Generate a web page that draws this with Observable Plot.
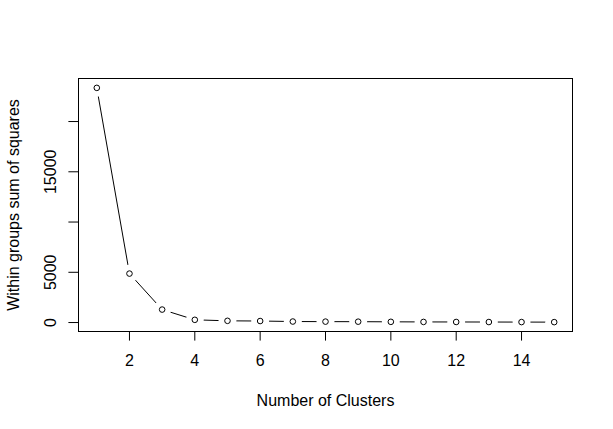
<!DOCTYPE html>
<html><head><meta charset="utf-8">
<script src="https://cdn.jsdelivr.net/npm/d3@7"></script>
<script src="https://cdn.jsdelivr.net/npm/@observablehq/plot@0.6"></script>
<style>
html,body{margin:0;padding:0;background:#fff}
svg{display:block}
</style>
</head><body><div id="chart"></div>
<script>
// Data (elbow plot)
const clusters = [1,2,3,4,5,6,7,8,9,10,11,12,13,14,15];
const wss = [23350, 4870, 1290, 270, 170, 150, 100, 90, 85, 70, 60, 55, 50, 45, 40];
const xTicks = [2,4,6,8,10,12,14];
const yTicks = [0,5000,10000,15000,20000];
const yTickLabels = ["0","5000","","15000",""];
const xTitle = "Number of Clusters";
const yTitle = "Within groups sum of squares";

const data = clusters.map((k,i)=>({k, w: wss[i]}));
const pad = ([a,b]) => { const s = (b-a)*0.04; return [a-s, b+s]; };

const chart = Plot.plot({
  width: 613, height: 429,
  marginLeft: 78, marginRight: 41, marginTop: 78, marginBottom: 98,
  style: {fontFamily: "'Liberation Sans', Arial, sans-serif", fontSize: "16px", color: "#000", background: "#fff"},
  x: {domain: pad(d3.extent(clusters))},
  y: {domain: pad(d3.extent(wss))},
  marks: [
    Plot.line(data, {x: "k", y: "w", stroke: "black", strokeWidth: 1}),
    Plot.dot(data, {x: "k", y: "w", r: 9, fill: "white", stroke: null}),
    Plot.dot(data, {x: "k", y: "w", r: 2.8, fill: "none", stroke: "black", strokeWidth: 1}),
    Plot.frame({stroke: "black", strokeWidth: 1}),
    Plot.axisX({ticks: xTicks, tickSize: 9.6, tickPadding: 14, label: null, fontSize: 16}),
    Plot.axisY({ticks: yTicks, tickFormat: (d) => yTickLabels[yTicks.indexOf(d)], tickSize: 9.6, tickPadding: 13.4, tickRotate: -90, label: null, fontSize: 16}),
    Plot.text([xTitle], {text: d => d, frameAnchor: "bottom", lineAnchor: "bottom", dy: 74.5, fontSize: 16, fill: "black"}),
    Plot.text([yTitle], {text: d => d, frameAnchor: "left", textAnchor: "middle", rotate: -90, lineAnchor: "bottom", dx: -59.7, fontSize: 16, fill: "black"})
  ]
});
document.getElementById("chart").appendChild(chart);
</script>
</body></html>
